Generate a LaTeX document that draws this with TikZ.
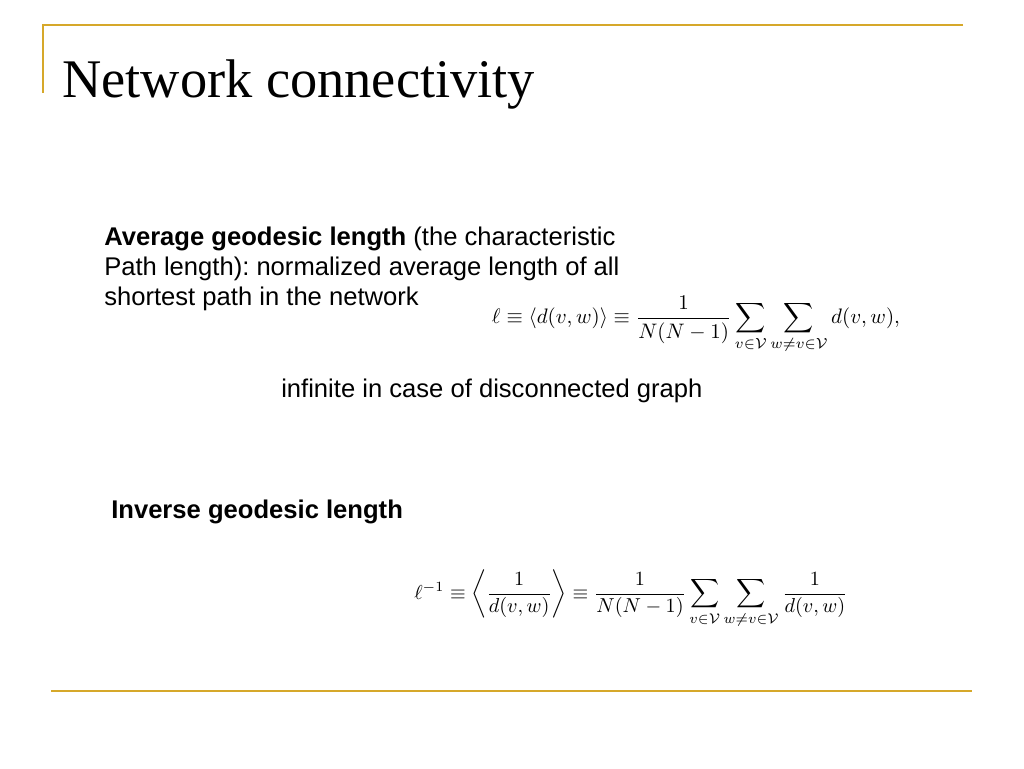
\documentclass[tikz,border=0pt]{standalone}
\usepackage{fontspec}
\usepackage{amsmath,amssymb}
\setmainfont{Liberation Sans}
\newfontfamily\titlefont{Liberation Serif}
\definecolor{gold}{RGB}{214,168,42}
\frenchspacing
\begin{document}
\begin{tikzpicture}[x=0.75pt,y=-0.75pt,
  rule/.style={draw=gold,line width=1.6pt},
  body/.style={inner sep=0pt,align=left,font=\fontsize{19.2pt}{22.5pt}\selectfont},
  formula/.style={inner sep=0pt}]
\useasboundingbox[fill=white] (0,0) rectangle (1024,768);
\coordinate (tl) at (43,25);
\coordinate (tr) at (963,25);
\coordinate (vl) at (43,93);
\coordinate (bl) at (51,691);
\coordinate (br) at (972,691);
\draw[rule] (tr) -- (tl) -- (vl);
\draw[rule] (bl) -- (br);
\node[anchor=base west,inner sep=0pt,font=\titlefont\fontsize{40.8pt}{46pt}\selectfont] (title) at (62,97) {Network connectivity};
\node[body,anchor=base west] (avg) at (104,305) {\textbf{Average geodesic length} (the characteristic\\Path length): normalized average length of all\\shortest path in the network};
\node[formula] (f1) at (696,325) {\resizebox{306pt}{!}{$\ell\equiv\langle d(v,w)\rangle\equiv\dfrac{1}{N(N-1)}\displaystyle\sum_{v\in\mathcal{V}}\sum_{w\neq v\in\mathcal{V}}d(v,w),$}};
\node[body,anchor=base west] (inf) at (281,397) {infinite in case of disconnected graph};
\node[body,anchor=base west] (inv) at (111,518) {\textbf{Inverse geodesic length}};
\node[formula] (f2) at (631,599) {\resizebox{325pt}{!}{$\ell^{-1}\equiv\left\langle\dfrac{1}{d(v,w)}\right\rangle\equiv\dfrac{1}{N(N-1)}\displaystyle\sum_{v\in\mathcal{V}}\sum_{w\neq v\in\mathcal{V}}\dfrac{1}{d(v,w)}$}};
\end{tikzpicture}
\end{document}
